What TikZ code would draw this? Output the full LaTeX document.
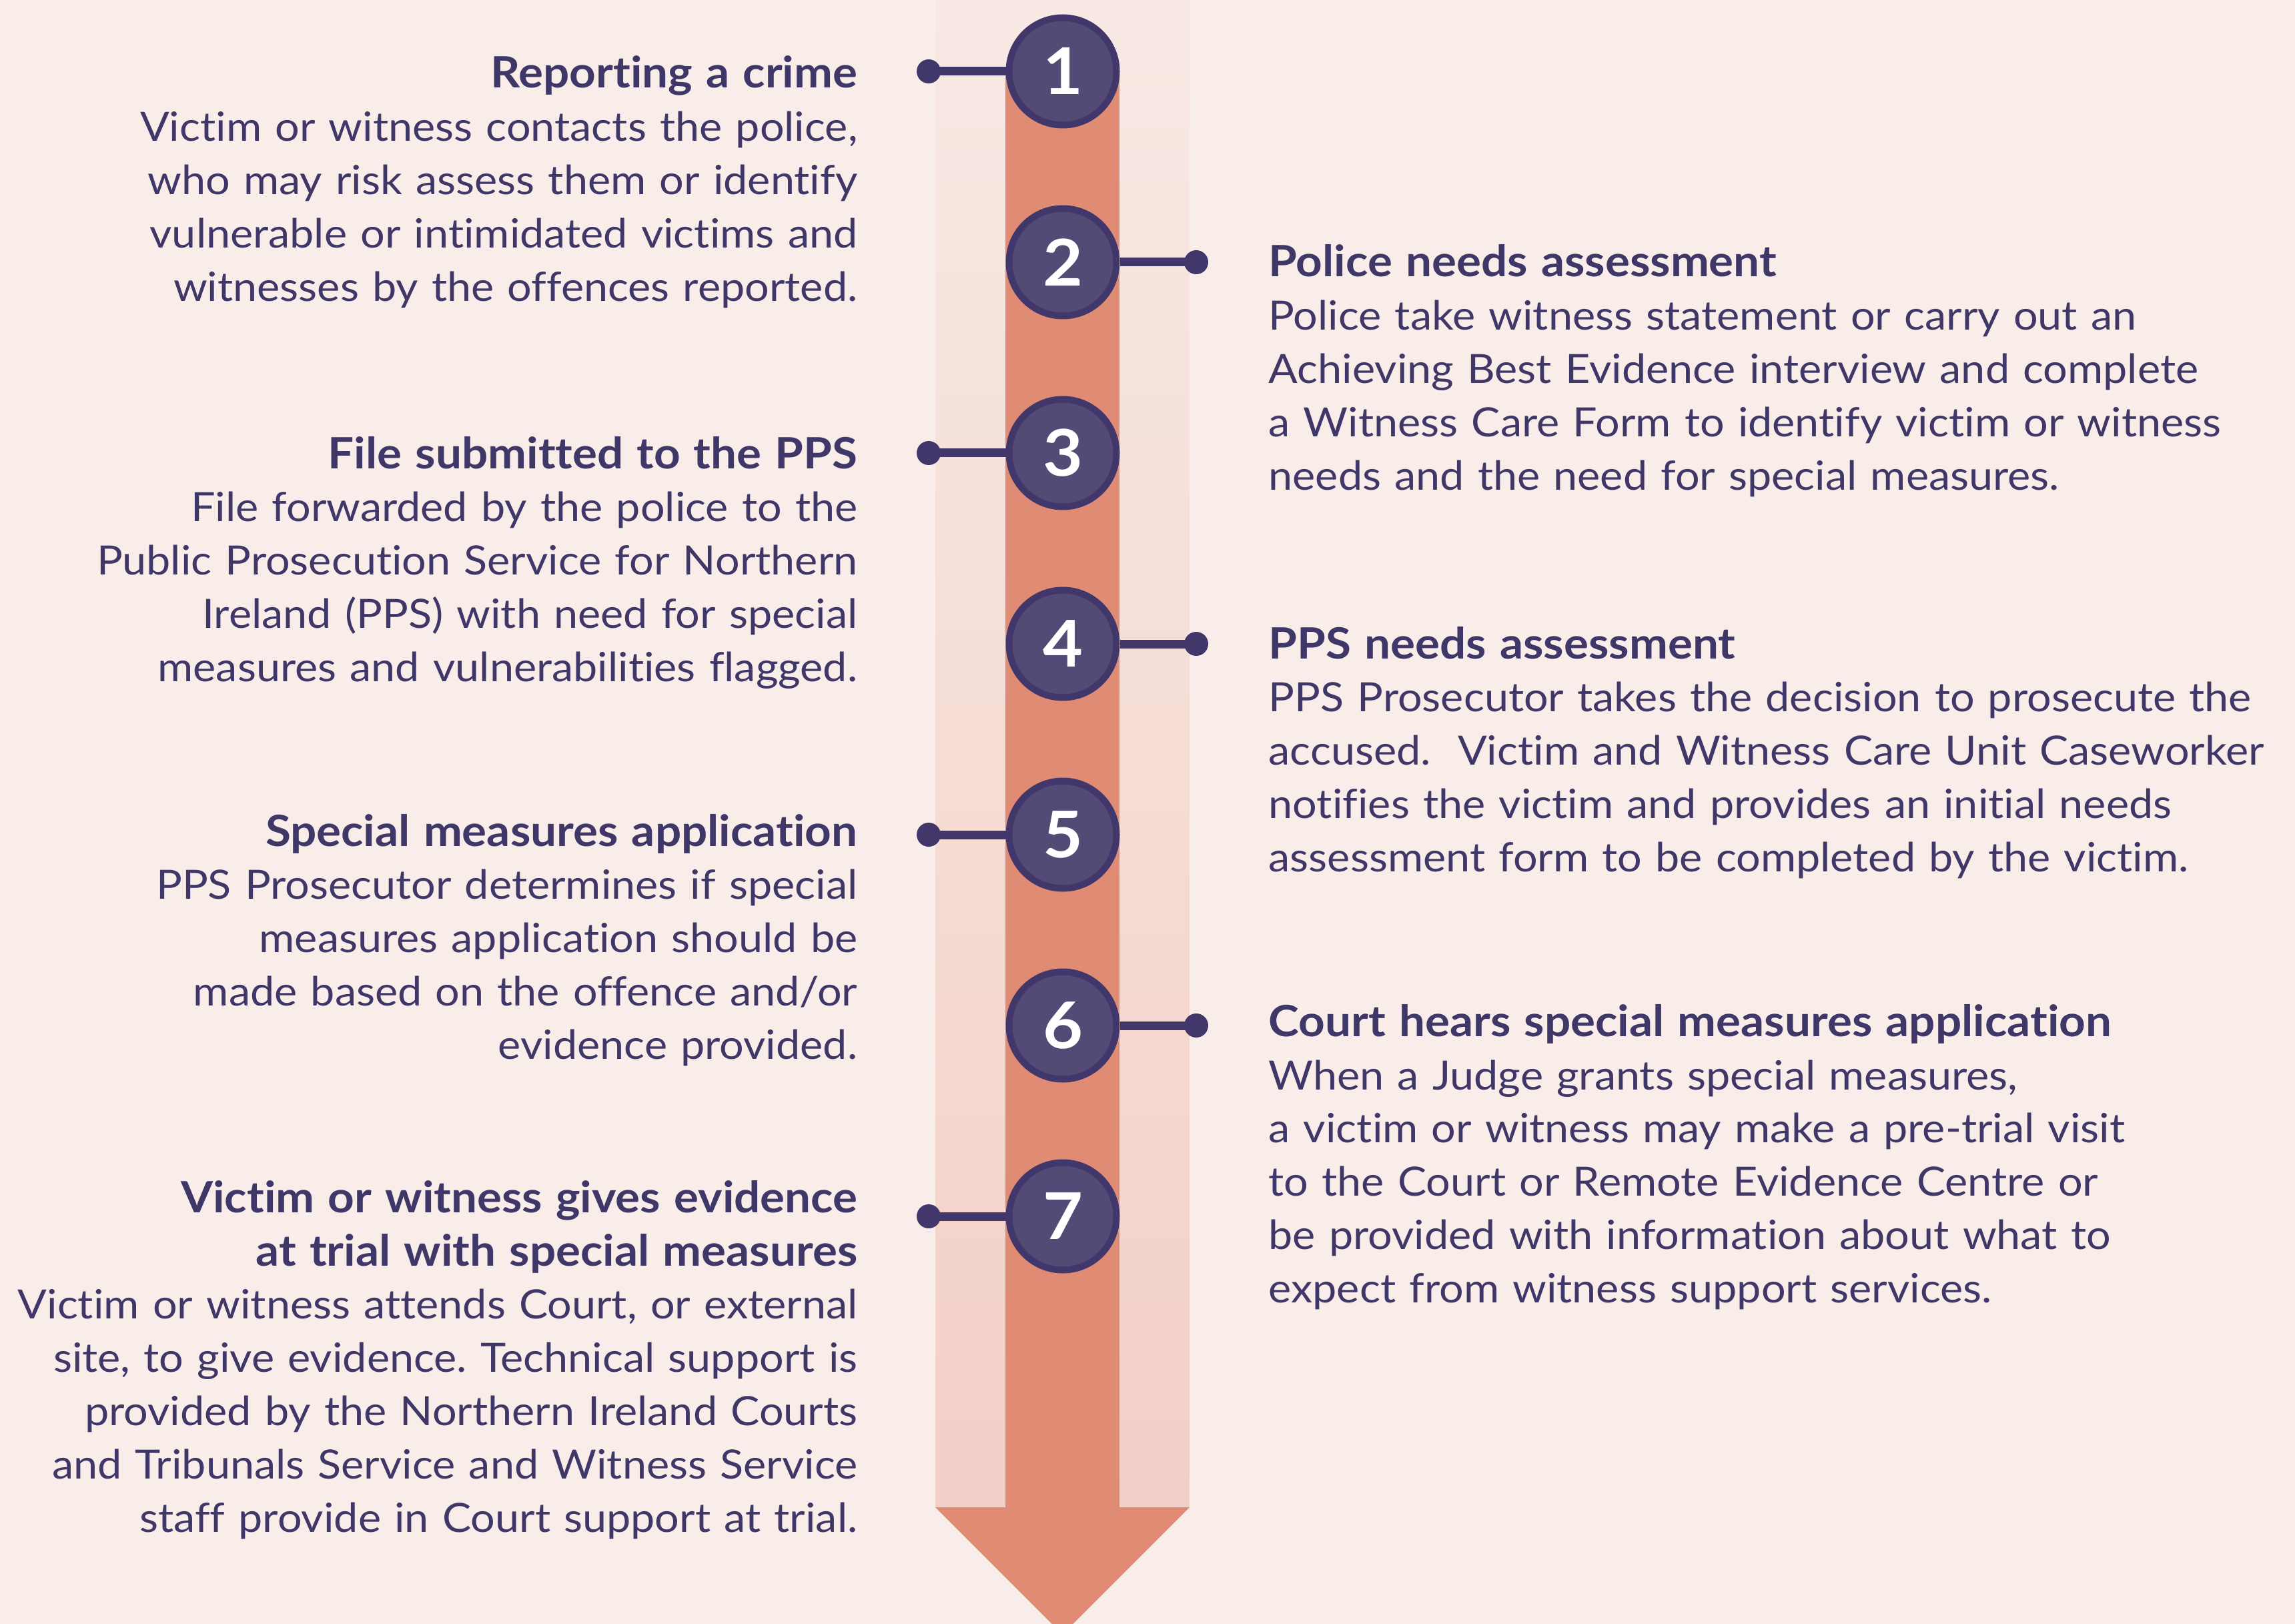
\documentclass[tikz,border=0pt]{standalone}
\usepackage{fontspec}
\setmainfont{Lato}[FakeStretch=1.07,Ligatures=NoCommon]
\usetikzlibrary{positioning}

\definecolor{bgcol}{HTML}{F9EDE9}
\definecolor{bandtop}{HTML}{F8E9E4}
\definecolor{bandbot}{HTML}{F2D0C7}
\definecolor{arrowcol}{HTML}{E08C74}
\definecolor{numcol}{HTML}{534B75}
\definecolor{ringcol}{HTML}{41376A}
\definecolor{txtcol}{HTML}{3F3768}

\newcommand\hd[1]{{\fontsize{18.4pt}{22.76pt}\selectfont\bfseries #1}\\}

\begin{document}
\frenchspacing
\begin{tikzpicture}[x=1cm,y=1cm,on grid,
    num/.style={circle,draw=ringcol,line width=1mm,fill=numcol,minimum size=1.61cm,inner sep=0pt,
      text=white,font=\fontsize{27.5pt}{30pt}\selectfont\bfseries},
    dot/.style={circle,fill=ringcol,minimum size=3.6mm,inner sep=0pt},
    link/.style={draw=ringcol,line width=1.3mm},
    lefttext/.style={anchor=base east,align=right,text width=13cm,inner sep=0pt,text=txtcol,
      font=\fontsize{17.2pt}{22.76pt}\selectfont},
    righttext/.style={anchor=base west,align=left,text width=15cm,inner sep=0pt,text=txtcol,
      font=\fontsize{17.2pt}{22.76pt}\selectfont}]
  \useasboundingbox (0,0) rectangle (34.40,-24.34);
  \fill[bgcol] (0,0) rectangle (34.40,-24.34);

  % arrow down the middle
  \shade[top color=bandtop,bottom color=bandbot] (14.02,0) rectangle (17.83,-22.59);
  \fill[arrowcol] (15.07,-1.07) rectangle (16.78,-22.59);
  \fill[arrowcol] (14.02,-22.59) -- (17.83,-22.59) -- (15.925,-24.495) -- cycle;

  % steps
  \node[num] (n1) at (15.93,-1.07) {1};
  \node[num] (n2) at (15.93,-3.93) {2};
  \node[num] (n3) at (15.93,-6.79) {3};
  \node[num] (n4) at (15.93,-9.65) {4};
  \node[num] (n5) at (15.93,-12.51) {5};
  \node[num] (n6) at (15.93,-15.37) {6};
  \node[num] (n7) at (15.93,-18.23) {7};

  \node[dot] (d1) [left=2.01cm of n1] {};
  \node[dot] (d2) [right=2.0cm of n2] {};
  \node[dot] (d3) [left=2.01cm of n3] {};
  \node[dot] (d4) [right=2.0cm of n4] {};
  \node[dot] (d5) [left=2.01cm of n5] {};
  \node[dot] (d6) [right=2.0cm of n6] {};
  \node[dot] (d7) [left=2.01cm of n7] {};

  \path[link] (n1) -- (d1.center)
    (n2) -- (d2.center)
    (n3) -- (d3.center)
    (n4) -- (d4.center)
    (n5) -- (d5.center)
    (n6) -- (d6.center)
    (n7) -- (d7.center);

  % texts
  \node[lefttext] (t1) at (12.86,-1.32) {\hd{Reporting a crime}
    Victim or witness contacts the police,\\
    who may risk assess them or identify\\
    vulnerable or intimidated victims and\\
    witnesses by the offences reported.};
  \node[righttext] (t2) at (19.01,-4.15) {\hd{Police needs assessment}
    Police take witness statement or carry out an\\
    Achieving Best Evidence interview and complete\\
    a Witness Care Form to identify victim or witness\\
    needs and the need for special measures.};
  \node[lefttext] (t3) at (12.86,-7.02) {\hd{File submitted to the PPS}
    File forwarded by the police to the\\
    Public Prosecution Service for Northern\\
    Ireland (PPS) with need for special\\
    measures and vulnerabilities flagged.};
  \node[righttext] (t4) at (19.01,-9.87) {\hd{PPS needs assessment}
    PPS Prosecutor takes the decision to prosecute the\\
    accused.\ \ Victim and Witness Care Unit Caseworker\\
    notifies the victim and provides an initial needs\\
    assessment form to be completed by the victim.};
  \node[lefttext] (t5) at (12.86,-12.68) {\hd{Special measures application}
    PPS Prosecutor determines if special\\
    measures application should be\\
    made based on the offence and/or\\
    evidence provided.};
  \node[righttext] (t6) at (19.01,-15.53) {\hd{Court hears special measures application}
    When a Judge grants special measures,\\
    a victim or witness may make a pre-trial visit\\
    to the Court or Remote Evidence Centre or\\
    be provided with information about what to\\
    expect from witness support services.};
  \node[lefttext] (t7) at (12.86,-18.17) {\hd{Victim or witness gives evidence}
    \hd{at trial with special measures}
    Victim or witness attends Court, or external\\
    site, to give evidence. Technical support is\\
    provided by the Northern Ireland Courts\\
    and Tribunals Service and Witness Service\\
    staff provide in Court support at trial.};
\end{tikzpicture}
\end{document}
